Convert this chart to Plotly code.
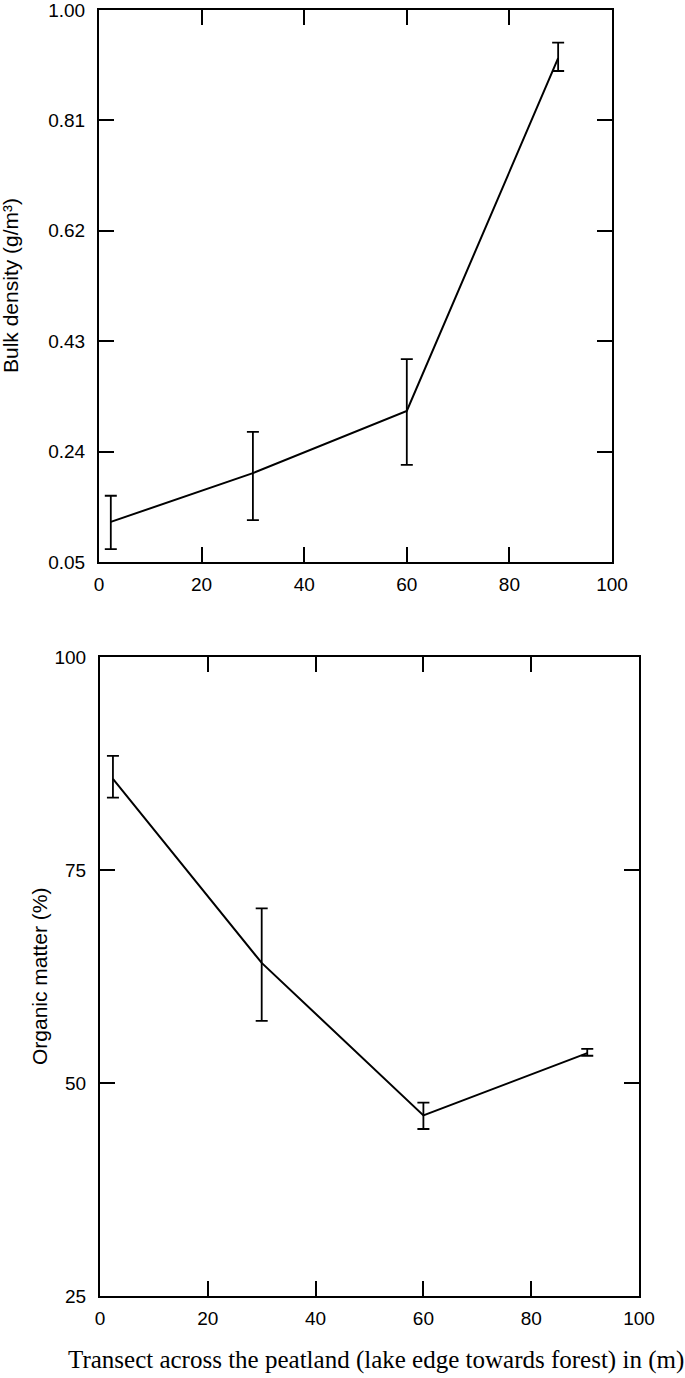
import plotly.graph_objects as go

W, H = 685, 1378

# Bulk density along the transect (top panel)
bd_x = [2.3, 30, 60, 89.5]
bd_y = [0.119, 0.203, 0.310, 0.917]
bd_hi = [0.164, 0.274, 0.399, 0.944]
bd_lo = [0.072, 0.122, 0.217, 0.895]
bd_ticks = [0.05, 0.24, 0.43, 0.62, 0.81, 1.00]

# Organic matter along the transect (bottom panel)
om_x = [2.4, 30, 60, 90.4]
om_y = [85.7, 64.1, 46.2, 53.5]
om_hi = [88.4, 70.5, 47.7, 54.0]
om_lo = [83.5, 57.3, 44.6, 53.2]
om_ticks = [25, 50, 75, 100]

x_ticks = [0, 20, 40, 60, 80, 100]


def xdom(left, right):
    return [left / W, right / W]


def ydom(top, bottom):
    return [1 - bottom / H, 1 - top / H]


def err(y, hi, lo):
    return dict(
        type="data",
        symmetric=False,
        array=[h - v for h, v in zip(hi, y)],
        arrayminus=[v - l for v, l in zip(y, lo)],
        color="black",
        thickness=1.8,
        width=6,
    )


fig = go.Figure()
fig.add_scatter(
    x=bd_x, y=bd_y, mode="lines",
    line={"color": "black", "width": 2},
    error_y=err(bd_y, bd_hi, bd_lo),
    xaxis="x", yaxis="y", showlegend=False,
)
fig.add_scatter(
    x=om_x, y=om_y, mode="lines",
    line={"color": "black", "width": 2},
    error_y=err(om_y, om_hi, om_lo),
    xaxis="x2", yaxis="y2", showlegend=False,
)

sans = "Liberation Sans, Arial"
tick_font = {"family": sans, "size": 19, "color": "black"}
common = dict(
    showline=True, linecolor="black", linewidth=2, mirror="ticks",
    ticks="inside", ticklen=15, tickwidth=2, tickcolor="black",
    showgrid=False, zeroline=False, tickfont=tick_font, automargin=False,
    ticklabeloverflow="allow",
)

fig.update_layout(
    template="none",
    width=W, height=H,
    margin=dict(l=0, r=0, t=0, b=0),
    paper_bgcolor="white", plot_bgcolor="white",
    xaxis=dict(common, domain=xdom(99, 612), anchor="y", range=[0, 100],
               tickvals=x_ticks, ticklabelstandoff=4),
    yaxis=dict(common, domain=ydom(10, 562), anchor="x", range=[0.05, 1.00],
               tickvals=bd_ticks, ticktext=[f"{v:.2f}" for v in bd_ticks],
               ticklabelstandoff=8),
    xaxis2=dict(common, domain=xdom(100, 639), anchor="y2", range=[0, 100],
                tickvals=x_ticks, ticklabelstandoff=4),
    yaxis2=dict(common, domain=ydom(657, 1296), anchor="x2", range=[25, 100],
                tickvals=om_ticks, ticklabelstandoff=8),
)

fig.add_annotation(
    text="Bulk density (g/m³)", textangle=-90,
    x=11 / W, y=1 - 286 / H, xref="paper", yref="paper",
    showarrow=False, xanchor="center", yanchor="middle",
    font={"family": sans, "size": 21, "color": "black"},
)
fig.add_annotation(
    text="Organic matter (%)", textangle=-90,
    x=39 / W, y=1 - 977 / H, xref="paper", yref="paper",
    showarrow=False, xanchor="center", yanchor="middle",
    font={"family": sans, "size": 21, "color": "black"},
)
fig.add_annotation(
    text="Transect across the peatland (lake edge towards forest) in (m)",
    x=376 / W, y=1 - 1360 / H, xref="paper", yref="paper",
    showarrow=False, xanchor="center", yanchor="middle",
    font={"family": "Liberation Serif, Times New Roman", "size": 25, "color": "black"},
)

# drop the page's default body margin so the figure sits at the top-left corner
fig.write_html(
    "out.html",
    config={"displayModeBar": False},
    post_script="document.body.style.margin='0';",
)
